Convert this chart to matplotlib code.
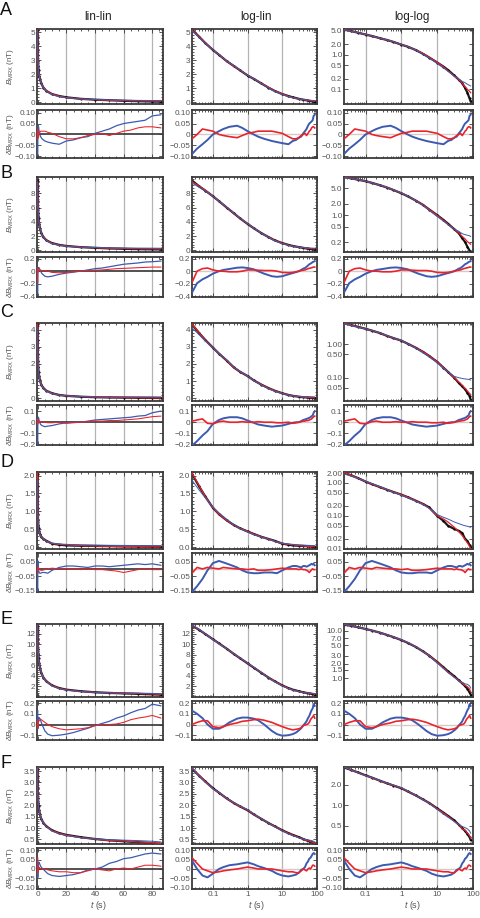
import matplotlib
matplotlib.use('Agg')
import matplotlib.pyplot as plt
from matplotlib.ticker import FixedLocator, FixedFormatter, NullFormatter, NullLocator, AutoMinorLocator, LogLocator

plt.rcParams['font.family'] = ['Liberation Sans', 'DejaVu Sans']
plt.rcParams['mathtext.fontset'] = 'custom'
plt.rcParams['mathtext.rm'] = 'Liberation Sans'
plt.rcParams['mathtext.it'] = 'Liberation Sans:italic'

# time axes (s)
t_main = [0.025, 0.04, 0.06, 0.1, 0.15, 0.25, 0.4, 0.6, 1, 1.5, 2.5, 4, 6, 10, 15, 20, 30, 40, 50, 60, 70, 80, 86]
t_res = [0.025, 0.035, 0.05, 0.07, 0.1, 0.15, 0.2, 0.3, 0.5, 0.7, 1, 1.5, 2, 3, 5, 7, 10,
         15, 20, 25, 30, 35, 40, 45, 50, 55, 60, 65, 70, 75, 80, 86]

# ---- A ----
A_data = [5.2, 4.7, 4.25, 3.75, 3.4, 2.95, 2.6, 2.3, 1.92, 1.68, 1.35, 1.05, 0.82, 0.59, 0.45, 0.36, 0.25, 0.19, 0.15, 0.11, 0.08, 0.055, 0.045]
A_red = [5.18, 4.7, 4.27, 3.76, 3.4, 2.94, 2.59, 2.3, 1.93, 1.69, 1.36, 1.07, 0.83, 0.6, 0.44, 0.34, 0.24, 0.19, 0.15, 0.12, 0.1, 0.088, 0.08]
A_blue = [5.11, 4.65, 4.22, 3.75, 3.42, 2.98, 2.64, 2.33, 1.93, 1.68, 1.34, 1.02, 0.79, 0.55, 0.41, 0.33, 0.24, 0.2, 0.17, 0.155, 0.14, 0.13, 0.125]
A_dred = [-0.02, 0.0, 0.025, 0.02, 0.015, 0.0, -0.005, -0.01, -0.015, -0.005, 0.005, 0.01, 0.015, 0.015, 0.015, 0.01,
          0.005, -0.01, -0.02, -0.02, -0.015, -0.005, 0.0, 0.005, -0.005, 0.005, 0.015, 0.02, 0.03, 0.035, 0.035, 0.03]
A_dblue = [-0.09, -0.065, -0.045, -0.025, 0.0, 0.015, 0.025, 0.035, 0.04, 0.03, 0.015, 0.0, -0.01, -0.02, -0.03, -0.035,
           -0.04, -0.045, -0.03, -0.025, -0.015, -0.01, 0.005, 0.015, 0.025, 0.04, 0.05, 0.055, 0.06, 0.065, 0.085, 0.09]

# ---- B ----
B_data = [9.8, 9.0, 8.4, 7.6, 6.9, 6.0, 5.2, 4.5, 3.7, 3.1, 2.4, 1.85, 1.4, 1.0, 0.75, 0.6, 0.43, 0.34, 0.25, 0.2, 0.15, 0.12, 0.11]
B_red = [9.62, 9.04, 8.45, 7.62, 6.9, 5.99, 5.19, 4.5, 3.72, 3.12, 2.41, 1.86, 1.4, 0.98, 0.73, 0.58, 0.43, 0.35, 0.28, 0.24, 0.205, 0.185, 0.175]
B_blue = [9.46, 8.85, 8.33, 7.58, 6.92, 6.04, 5.25, 4.56, 3.75, 3.13, 2.38, 1.79, 1.32, 0.92, 0.7, 0.57, 0.43, 0.38, 0.33, 0.31, 0.3, 0.29, 0.28]
B_dred = [-0.18, 0.0, 0.04, 0.05, 0.02, 0.0, 0.0, -0.01, -0.01, 0.0, 0.02, 0.02, 0.015, 0.01, 0.01, 0.0,
          -0.02, -0.025, -0.02, -0.01, 0.0, 0.01, 0.015, 0.02, 0.03, 0.04, 0.045, 0.05, 0.055, 0.06, 0.065, 0.065]
B_dblue = [-0.34, -0.19, -0.13, -0.09, -0.04, 0.0, 0.02, 0.035, 0.055, 0.06, 0.05, 0.03, 0.0, -0.04, -0.08, -0.09,
           -0.08, -0.05, -0.03, -0.015, 0.0, 0.02, 0.04, 0.05, 0.07, 0.09, 0.11, 0.12, 0.13, 0.145, 0.15, 0.16]

# ---- C ----
C_data = [4.3, 3.8, 3.4, 2.95, 2.6, 2.2, 1.8, 1.55, 1.3, 1.05, 0.8, 0.6, 0.45, 0.3, 0.2, 0.15, 0.1, 0.07, 0.055, 0.045, 0.035, 0.028, 0.022]
C_red = [4.31, 3.82, 3.39, 2.94, 2.6, 2.2, 1.8, 1.55, 1.3, 1.05, 0.8, 0.6, 0.45, 0.3, 0.2, 0.15, 0.1, 0.075, 0.06, 0.048, 0.04, 0.034, 0.031]
C_blue = [4.1, 3.7, 3.33, 2.94, 2.62, 2.24, 1.84, 1.58, 1.31, 1.04, 0.77, 0.56, 0.42, 0.28, 0.19, 0.15, 0.11, 0.1, 0.095, 0.092, 0.09, 0.088, 0.085]
C_dred = [0.01, 0.02, 0.03, -0.01, -0.015, 0.005, 0.01, 0.0, 0.0, 0.005, 0.0, 0.0, 0.005, 0.0, 0.0, -0.005,
          -0.005, 0.0, -0.01, -0.005, 0.0, 0.005, 0.01, 0.01, 0.015, 0.015, 0.02, 0.025, 0.03, 0.04, 0.05, 0.055]
C_dblue = [-0.21, -0.17, -0.12, -0.08, -0.015, 0.02, 0.035, 0.045, 0.045, 0.035, 0.015, -0.005, -0.02, -0.03, -0.04, -0.035,
           -0.03, -0.015, -0.005, 0.0, 0.0, 0.01, 0.02, 0.025, 0.03, 0.035, 0.04, 0.045, 0.055, 0.06, 0.085, 0.1]

# ---- D ----
D_data = [2.05, 1.7, 1.42, 1.1, 0.92, 0.75, 0.62, 0.53, 0.44, 0.37, 0.29, 0.23, 0.18, 0.1, 0.07, 0.05, 0.04, 0.035, 0.03, 0.02, 0.017, 0.013, 0.011]
D_red = [2.07, 1.72, 1.42, 1.1, 0.92, 0.75, 0.62, 0.53, 0.44, 0.37, 0.29, 0.23, 0.17, 0.1, 0.08, 0.065, 0.045, 0.033, 0.025, 0.019, 0.015, 0.012, 0.01]
D_blue = [1.87, 1.6, 1.38, 1.12, 0.96, 0.78, 0.63, 0.52, 0.42, 0.35, 0.28, 0.22, 0.17, 0.11, 0.09, 0.08, 0.065, 0.058, 0.053, 0.05, 0.048, 0.046, 0.045]
D_dred = [-0.03, 0.01, 0.0, 0.01, 0.005, 0.0, 0.01, 0.005, 0.0, 0.0, -0.005, 0.0, -0.01, -0.01, -0.005, 0.0,
          0.005, 0.0, 0.0, 0.0, -0.005, 0.0, -0.005, -0.005, -0.01, -0.015, -0.025, -0.015, -0.005, 0.0, -0.005, -0.005]
D_dblue = [-0.16, -0.12, -0.07, -0.01, 0.04, 0.055, 0.045, 0.03, 0.01, -0.01, -0.025, -0.03, -0.03, -0.025, -0.025, -0.03,
           -0.01, 0.01, 0.02, 0.02, 0.015, 0.01, 0.02, 0.02, 0.015, 0.02, 0.025, 0.03, 0.035, 0.03, 0.035, 0.025]

# ---- E ----
E_data = [13.6, 12.8, 12.0, 11.0, 10.2, 9.2, 8.2, 7.4, 6.4, 5.6, 4.6, 3.7, 3.0, 2.2, 1.7, 1.4, 1.1, 0.9, 0.78, 0.68, 0.6, 0.5, 0.45]
E_red = [13.6, 12.83, 12.03, 10.98, 10.17, 9.19, 8.22, 7.43, 6.44, 5.65, 4.64, 3.72, 3.0, 2.18, 1.66, 1.35, 1.06, 0.89, 0.78, 0.7, 0.66, 0.59, 0.51]
E_blue = [13.73, 12.88, 12.02, 10.96, 10.16, 9.19, 8.25, 7.46, 6.46, 5.65, 4.62, 3.66, 2.92, 2.1, 1.6, 1.31, 1.04, 0.89, 0.81, 0.76, 0.74, 0.69, 0.62]
E_dred = [0.0, 0.02, 0.035, 0.035, -0.02, -0.03, -0.02, 0.0, 0.015, 0.03, 0.035, 0.045, 0.05, 0.04, 0.02, 0.0,
          -0.02, -0.04, -0.05, -0.045, -0.04, -0.03, -0.01, -0.005, 0.0, 0.005, 0.02, 0.045, 0.06, 0.07, 0.085, 0.06]
E_dblue = [0.13, 0.1, 0.06, 0.0, -0.04, -0.04, -0.02, 0.02, 0.055, 0.065, 0.065, 0.055, 0.04, 0.0, -0.06, -0.09,
           -0.105, -0.1, -0.09, -0.075, -0.055, -0.035, -0.01, 0.01, 0.03, 0.06, 0.08, 0.11, 0.135, 0.15, 0.19, 0.175]

# ---- F ----
F_data = [3.6, 3.3, 3.05, 2.75, 2.55, 2.3, 2.1, 1.95, 1.78, 1.6, 1.4, 1.22, 1.08, 0.9, 0.78, 0.7, 0.6, 0.52, 0.46, 0.42, 0.38, 0.34, 0.31]
F_red = [3.65, 3.31, 3.05, 2.73, 2.54, 2.29, 2.1, 1.95, 1.79, 1.6, 1.4, 1.22, 1.08, 0.89, 0.77, 0.69, 0.58, 0.52, 0.45, 0.43, 0.39, 0.36, 0.33]
F_blue = [3.64, 3.28, 3.01, 2.73, 2.56, 2.32, 2.12, 1.98, 1.81, 1.62, 1.41, 1.21, 1.06, 0.87, 0.74, 0.67, 0.58, 0.52, 0.49, 0.47, 0.45, 0.42, 0.39]
F_dred = [0.06, 0.03, 0.0, -0.01, -0.02, -0.015, -0.01, -0.005, 0.0, 0.005, 0.01, 0.005, 0.0, 0.0, 0.0, -0.005,
          -0.01, -0.015, -0.015, -0.02, -0.02, -0.01, 0.0, -0.005, -0.01, 0.0, 0.005, 0.0, 0.01, 0.02, 0.02, 0.015]
F_dblue = [0.045, 0.0, -0.035, -0.045, -0.025, 0.0, 0.01, 0.02, 0.025, 0.03, 0.035, 0.025, 0.015, 0.005, -0.01, -0.025,
           -0.035, -0.04, -0.035, -0.03, -0.02, -0.005, 0.0, 0.01, 0.03, 0.04, 0.055, 0.06, 0.07, 0.08, 0.085, 0.08]

letters = ['A', 'B', 'C', 'D', 'E', 'F']
datasets = [(A_data, A_red, A_blue, A_dred, A_dblue), (B_data, B_red, B_blue, B_dred, B_dblue),
            (C_data, C_red, C_blue, C_dred, C_dblue), (D_data, D_red, D_blue, D_dred, D_dblue),
            (E_data, E_red, E_blue, E_dred, E_dblue), (F_data, F_red, F_blue, F_dred, F_dblue)]

# axis settings per row
lin_ylim = [(-0.12, 5.25), (-0.25, 10.3), (-0.15, 4.38), (-0.05, 2.1), (0.0, 13.9), (0.3, 3.68)]
lin_ticks = [[0, 1, 2, 3, 4, 5], [0, 2, 4, 6, 8], [0, 1, 2, 3, 4], [0.0, 0.5, 1.0, 1.5, 2.0],
             [2, 4, 6, 8, 10, 12], [0.5, 1.0, 1.5, 2.0, 2.5, 3.0, 3.5]]
lin_labels = [['0', '1', '2', '3', '4', '5'], ['0', '2', '4', '6', '8'], ['0', '1', '2', '3', '4'],
              ['0.0', '0.5', '1.0', '1.5', '2.0'], ['2', '4', '6', '8', '10', '12'],
              ['0.5', '1.0', '1.5', '2.0', '2.5', '3.0', '3.5']]
log_ylim = [(0.038, 5.4), (0.11, 9.8), (0.02, 4.4), (0.0098, 2.15), (0.4, 14.0), (0.27, 3.65)]
log_ticks = [[5, 2, 1, 0.5, 0.2, 0.1], [5, 2, 1, 0.5, 0.2], [1, 0.5, 0.1, 0.05],
             [2, 1, 0.5, 0.2, 0.1, 0.05, 0.02, 0.01], [10, 7, 5, 3, 2, 1.5, 1], [2, 1, 0.5]]
log_labels = [['5.0', '2.0', '1.0', '0.5', '0.2', '0.1'], ['5.0', '2.0', '1.0', '0.5', '0.2'],
              ['1.00', '0.50', '0.10', '0.05'],
              ['2.00', '1.00', '0.50', '0.20', '0.10', '0.05', '0.02', '0.01'],
              ['10.0', '7.0', '5.0', '3.0', '2.0', '1.5', '1.0'], ['2.0', '1.0', '0.5']]
res_ylim = [(-0.108, 0.112), (-0.41, 0.225), (-0.205, 0.155), (-0.16, 0.11), (-0.145, 0.22), (-0.107, 0.112)]
res_ticks = [[-0.1, -0.05, 0, 0.05, 0.1], [-0.4, -0.2, 0, 0.2], [-0.2, -0.1, 0, 0.1],
             [-0.15, -0.05, 0.05], [-0.1, 0, 0.1, 0.2], [-0.1, -0.05, 0, 0.05, 0.1]]
res_labels = [['\u22120.10', '\u22120.05', '0', '0.05', '0.10'], ['\u22120.4', '\u22120.2', '0', '0.2'],
              ['\u22120.2', '\u22120.1', '0', '0.1'], ['\u22120.15', '\u22120.05', '0.05'],
              ['\u22120.1', '0', '0.1', '0.2'], ['\u22120.10', '\u22120.05', '0', '0.05', '0.10']]

# pixel layout
W, H = 481, 918
col_x = [(37, 163), (192, 317), (344, 473)]
main_y = [(29, 104), (177, 252), (323, 401), (472, 549), (624, 697), (767, 844)]
res_y = [(110, 158), (257, 297), (405, 445), (553, 592), (701, 740), (848, 889)]
letter_y = [2, 165, 304, 454, 611, 755]

RED = '#e8232a'
BLUE = '#3c5bb0'
FRAME = '#3a3a3a'
TXT = '#555555'
LS = 5.9

fig = plt.figure(figsize=(W / 100, H / 100), dpi=100)


def add_ax(xr, yr):
    return fig.add_axes([xr[0] / W, 1 - yr[1] / H, (xr[1] - xr[0]) / W, (yr[1] - yr[0]) / H])


def style(ax):
    for sp in ax.spines.values():
        sp.set_color(FRAME)
        sp.set_linewidth(1.3)
    ax.tick_params(which='both', direction='in', top=True, right=True, color=FRAME,
                   labelcolor=TXT, labelsize=LS, width=0.6, pad=1.2)
    ax.tick_params(which='major', length=2.6)
    ax.tick_params(which='minor', length=1.4)


def set_x(ax, col, show):
    if col == 0:
        ax.set_xlim(-0.5, 87.5)
        ax.xaxis.set_major_locator(FixedLocator([0, 20, 40, 60, 80]))
        ax.xaxis.set_minor_locator(AutoMinorLocator(4))
        for v in [20, 40, 60, 80]:
            ax.axvline(v, color='#b4b4b4', lw=0.9, zorder=0)
    else:
        ax.set_xscale('log')
        ax.set_xlim(0.025, 100)
        ax.xaxis.set_major_locator(FixedLocator([0.1, 1, 10, 100]))
        ax.xaxis.set_minor_locator(LogLocator(base=10, subs=range(2, 10)))
        ax.xaxis.set_minor_formatter(NullFormatter())
        for v in [0.1, 1, 10]:
            ax.axvline(v, color='#b4b4b4', lw=0.9, zorder=0)
    if show:
        if col == 0:
            ax.xaxis.set_major_formatter(FixedFormatter(['0', '20', '40', '60', '80']))
        else:
            ax.xaxis.set_major_formatter(FixedFormatter(['0.1', '1', '10', '100']))
    else:
        ax.xaxis.set_major_formatter(NullFormatter())


for r in range(6):
    data, red, blue, dred, dblue = datasets[r]
    last = (r == 5)
    for c in range(3):
        ax = add_ax(col_x[c], main_y[r])
        style(ax)
        set_x(ax, c, False)
        ax.plot(t_main, data, color='#1a1a1a', lw=1.6, zorder=2)
        ax.plot(t_main, data, 'o', color='black', ms=1.6, mew=0, zorder=2)
        ax.plot(t_main, red, color=RED, lw=0.9, zorder=3)
        ax.plot(t_main, blue, color=BLUE, lw=0.7, zorder=4)
        if c == 2:
            ax.set_yscale('log')
            ax.set_ylim(*log_ylim[r])
            ax.yaxis.set_major_locator(FixedLocator(log_ticks[r]))
            ax.yaxis.set_major_formatter(FixedFormatter(log_labels[r]))
            ax.yaxis.set_minor_locator(NullLocator())
        else:
            ax.set_ylim(*lin_ylim[r])
            ax.yaxis.set_major_locator(FixedLocator(lin_ticks[r]))
            ax.yaxis.set_major_formatter(FixedFormatter(lin_labels[r]))
            ax.yaxis.set_minor_locator(AutoMinorLocator(5))

        rx = add_ax(col_x[c], res_y[r])
        style(rx)
        set_x(rx, c, last)
        if c == 0:
            rx.axhline(0, color='#333333', lw=1.2, zorder=1)
            lw = 0.9
        else:
            rx.axhline(0, color='#d8c8c8', lw=1.0, zorder=1)
            lw = 1.4
        rx.plot(t_res, dblue, color=BLUE, lw=lw, zorder=3)
        rx.plot(t_res, dred, color=RED, lw=lw * 0.85, zorder=4)
        rx.set_ylim(*res_ylim[r])
        rx.yaxis.set_major_locator(FixedLocator(res_ticks[r]))
        rx.yaxis.set_major_formatter(FixedFormatter(res_labels[r]))

    # labels
    fig.text(0 / W, 1 - letter_y[r] / H, letters[r], fontsize=13, ha='left', va='top', color='#111111')
    fig.text(11 / W, 1 - (main_y[r][0] + main_y[r][1]) / 2 / H, r'$B_{\rm MRX}$ (nT)', rotation=90,
             fontsize=LS, color=TXT, ha='center', va='center')
    fig.text(11 / W, 1 - (res_y[r][0] + res_y[r][1]) / 2 / H, r'$\delta B_{\rm MRX}$ (nT)', rotation=90,
             fontsize=LS, color=TXT, ha='center', va='center')

for xc, title in zip([98, 256, 412], ['lin-lin', 'log-lin', 'log-log']):
    fig.text(xc / W, 1 - 17 / H, title, fontsize=8.5, ha='center', va='center', color='#222222')
    fig.text(xc / W, 1 - 906 / H, r'$t$ (s)', fontsize=6.5, ha='center', va='center', color=TXT)

fig.savefig('out.png', dpi=100)
